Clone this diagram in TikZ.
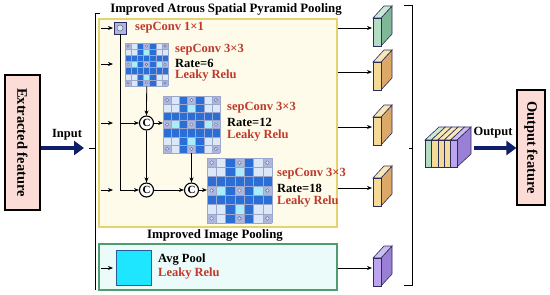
\documentclass[tikz,border=0pt]{standalone}
\usepackage{fontspec}
\setmainfont{Liberation Serif}
\usetikzlibrary{arrows.meta}
\definecolor{navy}{HTML}{0F1F6B}
\definecolor{redtxt}{HTML}{C0392B}
\definecolor{pinkbox}{HTML}{FBDCD6}
\definecolor{ybord}{HTML}{E6D36E}
\definecolor{yfill}{HTML}{FFFBEA}
\definecolor{gbord}{HTML}{4F9C6E}
\definecolor{gfill}{HTML}{EAFBFA}
\definecolor{cellL}{HTML}{DCE8F6}
\definecolor{cellC}{HTML}{A8EEF8}
\definecolor{cellD}{HTML}{2B6FD6}
\definecolor{cellP}{HTML}{AEB6DE}
\definecolor{gline}{HTML}{9AA8D0}
\definecolor{sgF}{HTML}{B2DDC2}
\definecolor{sgS}{HTML}{7FB896}
\definecolor{sgT}{HTML}{CBE9D4}
\definecolor{soF}{HTML}{F3DA96}
\definecolor{soS}{HTML}{DCA868}
\definecolor{soT}{HTML}{F8E8B8}
\definecolor{spF}{HTML}{BCA4EE}
\definecolor{spS}{HTML}{9A80D4}
\definecolor{spT}{HTML}{CDBDF2}
\definecolor{slabline}{HTML}{2C2C5C}
\definecolor{avgc}{HTML}{1EE6FF}
\definecolor{avgb}{HTML}{2A5A9A}

\newcommand{\agrid}[4]{%
  \node[minimum size=#4pt, inner sep=0pt, anchor=north west] (#1) at (#2,#3) {};
  \begin{scope}[shift={(#2,#3)}, scale=#4/7]
    \fill[cellL] (0,0) rectangle (7,7);
    \fill[cellC] (3,0) rectangle (4,7);
    \fill[cellC] (0,3) rectangle (7,4);
    \fill[cellD] (2,0) rectangle (3,7);
    \fill[cellD] (4,0) rectangle (5,7);
    \fill[cellD] (0,2) rectangle (7,3);
    \fill[cellD] (0,4) rectangle (7,5);
    \foreach \i in {0,3,6}{\foreach \j in {0,3,6}{%
      \fill[cellP] (\i,\j) rectangle ++(1,1);
      \draw[fill=cellL, draw=slabline!70, line width=0.4pt] (\i+0.5,\j+0.5) circle (0.2);}}
    \foreach \k in {0,...,7}{%
      \draw[gline, line width=0.4pt] (\k,0) -- (\k,7);
      \draw[gline, line width=0.4pt] (0,\k) -- (7,\k);}
  \end{scope}}

\newcommand{\slab}[5]{%
  \filldraw[draw=slabline, line width=0.6pt, fill=#4] (#1+8,#2) -- (#1+19,#2-12) -- (#1+19,#2+16) -- (#1+8,#2+28) -- cycle;
  \filldraw[draw=slabline, line width=0.6pt, fill=#5] (#1,#2) -- (#1+11,#2-12) -- (#1+19,#2-12) -- (#1+8,#2) -- cycle;
  \filldraw[draw=slabline, line width=0.6pt, fill=#3] (#1,#2) rectangle (#1+8,#2+28);}

\begin{document}
\begin{tikzpicture}[x=1pt,y=-1pt,
  sarr/.style={-{Stealth[length=5pt,width=4pt]}, line width=0.8pt},
  lbl/.style={font=\bfseries\fontsize{12.5}{14}\selectfont, inner sep=0pt, anchor=west},
  redlbl/.style={lbl, text=redtxt},
  ttl/.style={font=\bfseries\fontsize{12.8}{14}\selectfont, inner sep=0pt},
  cnode/.style={circle, draw, line width=1.1pt, fill=white, minimum size=14pt, inner sep=0pt, font=\bfseries\fontsize{11}{12}\selectfont},
  fbox/.style={draw, line width=1.2pt, fill=pinkbox, inner sep=0pt, font=\bfseries\fontsize{14.5}{16}\selectfont},
  bigarr/.style={draw=navy, line width=4.5pt, -{Triangle[length=10pt,width=14pt]}},
  brk/.style={line width=1pt}
]
\useasboundingbox (0,0) rectangle (550,295);

% input / output boxes
\node[fbox, minimum width=35pt, minimum height=135pt] (ext) at (22.5,142.5) {\rotatebox{-90}{Extracted feature}};
\node[fbox, minimum width=28pt, minimum height=115pt] (out) at (531,147.5) {\rotatebox{-90}{Output feature}};

% input arrow
\coordinate (inp) at (84,148);
\draw[bigarr] (ext.east |- inp) -- (inp);
\node[lbl, anchor=center] (inplbl) at (67,135) {Input};

% left bracket
\coordinate (lb1) at (100,13);
\coordinate (lb2) at (95,290);
\coordinate (lbm) at (89,148);
\draw[brk] (lb1) -- (lb1 -| lb2) -- (lb2);
\draw[brk] (lbm) -- (lbm -| lb2);

% boxes
\node[draw=ybord, fill=yfill, line width=1.5pt, minimum width=238pt, minimum height=208pt, inner sep=0pt, anchor=north west] (aspp) at (98,18) {};
\node[ttl] (asppt) at (226,9) {Improved Atrous Spatial Pyramid Pooling};
\node[draw=gbord, fill=gfill, line width=1.5pt, minimum width=238pt, minimum height=46pt, inner sep=0pt, anchor=north west] (gip) at (98,243) {};
\node[ttl] (gipt) at (215,235) {Improved Image Pooling};

% small input arrows
\foreach \yy [count=\n] in {28,64,123,190,268}{
  \coordinate (ia\n) at (101,\yy);
  \coordinate (ib\n) at (113,\yy);
  \draw[sarr] (ia\n) -- (ib\n);
}

% sepConv 1x1
\node[draw=slabline, fill=cellP, line width=0.6pt, minimum size=12pt, inner sep=0pt] (p1) at (120,28) {};
\draw[fill=cellL, draw=slabline!70, line width=0.5pt] (p1.center) circle (3pt);
\node[redlbl] (p1t) at (135,28) {sepConv 1×1};

% grids
\agrid{g1}{125}{43}{43}
\agrid{g2}{163}{96}{57}
\agrid{g3}{207}{158}{65}

\node[redlbl] (g1a) at (175,50) {sepConv 3×3};
\node[lbl] (g1b) at (175,63) {Rate=6};
\node[redlbl] (g1c) at (175,76) {Leaky Relu};
\node[redlbl] (g2a) at (227,108) {sepConv 3×3};
\node[lbl] (g2b) at (227,122) {Rate=12};
\node[redlbl] (g2c) at (227,136) {Leaky Relu};
\node[redlbl] (g3a) at (277,174) {sepConv 3×3};
\node[lbl] (g3b) at (277,188) {Rate=18};
\node[redlbl] (g3c) at (277,202) {Leaky Relu};

% concat nodes
\node[cnode] (c1) at (146.5,123) {C};
\node[cnode] (c3) at (146.5,190) {C};
\node[cnode] (c4) at (191.5,190) {C};

\draw[sarr] (g1.south) -- (c1.north);
\draw[sarr] (c1.east) -- (g2.west |- c1);
\draw[sarr] (c1.south) -- (c3.north);
\draw[sarr] (c3.east) -- (c4.west);
\draw[sarr] (g2.south -| c4) -- (c4.north);
\draw[sarr] (c4.east) -- (g3.west |- c4);
\draw[sarr] (p1.south) -- (p1.south |- c3) -- (c3.west);
\draw[sarr] (p1.south |- c1) -- (c1.west);

% avg pool
\node[draw=avgb, fill=avgc, line width=1pt, minimum size=35pt, inner sep=0pt] (avg) at (133.5,267.5) {};
\node[lbl] (avga) at (158,260) {Avg Pool};
\node[redlbl] (avgb) at (158,274) {Leaky Relu};

% feature slabs
\slab{373}{18}{sgF}{sgS}{sgT}
\slab{373}{62}{soF}{soS}{soT}
\slab{373}{117}{soF}{soS}{soT}
\slab{373}{178}{soF}{soS}{soT}
\slab{373}{258}{spF}{spS}{spT}
\coordinate (s1) at (372,28);
\coordinate (s2) at (372,72);
\coordinate (s3) at (372,127);
\coordinate (s4) at (372,188);
\coordinate (s5) at (372,268);
\draw[sarr] (aspp.east |- s1) -- (s1);
\draw[sarr] (aspp.east |- s2) -- (s2);
\draw[sarr] (aspp.east |- s3) -- (s3);
\draw[sarr] (aspp.east |- s4) -- (s4);
\draw[sarr] (gip.east |- s5) -- (s5);

% right bracket
\coordinate (rb1) at (404,5);
\coordinate (rb2) at (412,285);
\coordinate (rbm) at (409,148);
\draw[brk] (rb1) -- (rb1 -| rb2) -- (rb2) -- (rb2 -| rb1);
\draw[brk] (rbm) -- (rbm -| rb2);

% concatenated block
\filldraw[draw=slabline, line width=0.6pt, fill=spS] (457,140) -- (471,127) -- (471,154) -- (457,167) -- cycle;
\foreach \c/\t [count=\n from 0] in {sgF/sgT,soF/soT,soF/soT,soF/soT,spF/spT}{
  \filldraw[draw=slabline, line width=0.6pt, fill=\t] (425+6.4*\n,140) -- (439+6.4*\n,127) -- (445.4+6.4*\n,127) -- (431.4+6.4*\n,140) -- cycle;
  \filldraw[draw=slabline, line width=0.6pt, fill=\c] (425+6.4*\n,140) rectangle (431.4+6.4*\n,167);
}
\node[minimum width=46pt, minimum height=40pt, inner sep=0pt] (cat) at (448,147) {};

% output arrow
\draw[bigarr] ([xshift=3pt]cat.east |- inp) -- (out.west |- inp);
\node[lbl, anchor=center] (outlbl) at (493,133) {Output};

\end{tikzpicture}
\end{document}
